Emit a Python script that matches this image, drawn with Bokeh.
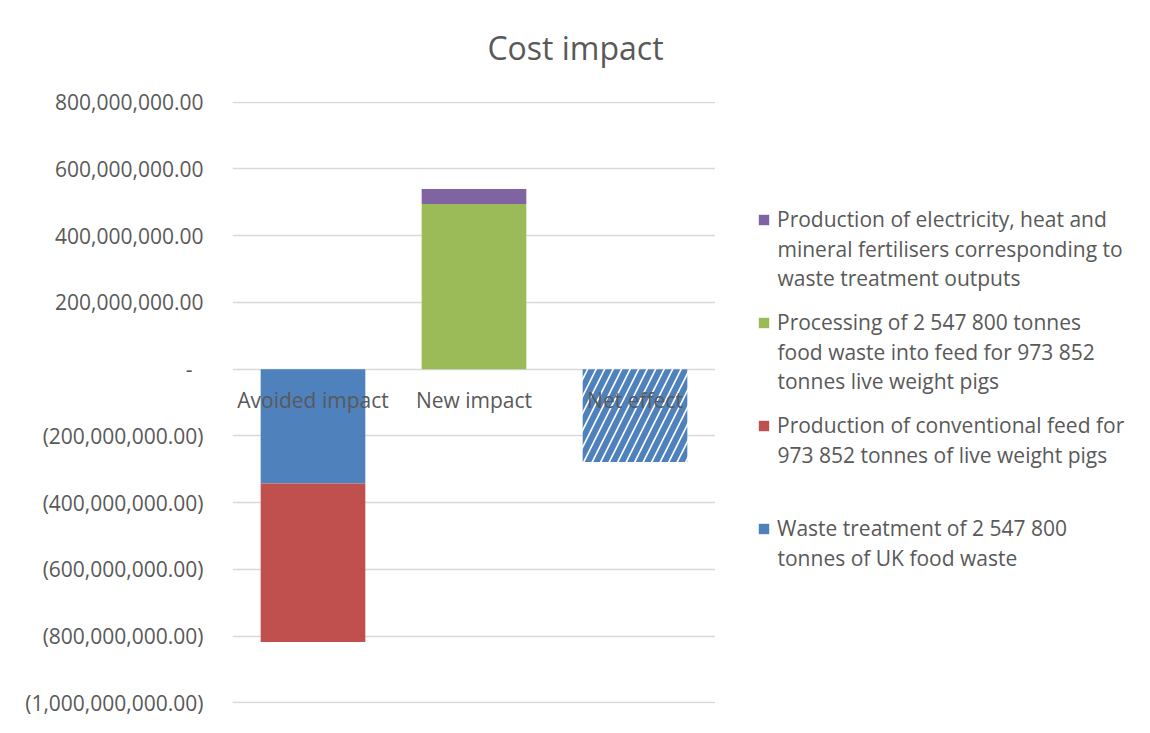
from bokeh.plotting import figure, ColumnDataSource
from bokeh.models import FactorRange, Range1d, FixedTicker, NumeralTickFormatter, Legend, LegendItem, Label
from bokeh.layouts import row, column
from bokeh.embed import file_html
from bokeh.resources import INLINE
from bokeh.core.properties import value

categories = ["Avoided impact", "New impact", "Net effect"]
waste_treatment = [-343e6, 0, 0]
conventional_feed = [-475e6, 0, 0]
processing = [0, 495e6, 0]
electricity = [0, 45e6, 0]
net_effect = [0, 0, -278e6]

legend_lines = [
    ["Waste treatment of 2 547 800", "tonnes of UK food waste"],
    ["Production of conventional feed for", "973 852 tonnes of live weight pigs"],
    ["Processing of 2 547 800 tonnes", "food waste into feed for 973 852", "tonnes live weight pigs"],
    ["Production of electricity, heat and", "mineral fertilisers corresponding to", "waste treatment outputs"],
]
colors = ["#4f81bd", "#c0504d", "#9bbb59", "#8064a2"]
y_ticks = [-1e9, -8e8, -6e8, -4e8, -2e8, 0, 2e8, 4e8, 6e8, 8e8]
y_tick_labels = ["(1,000,000,000.00)", "(800,000,000.00)", "(600,000,000.00)",
                 "(400,000,000.00)", "(200,000,000.00)", "-\u00a0\u00a0",
                 "200,000,000.00", "400,000,000.00", "600,000,000.00", "800,000,000.00"]
title_text = "Cost impact"

FONT = "Open Sans"
TXT = "#595959"
W, H = 1150, 733
TOP_H = 80            # height of the title strip
FRAME_L, FRAME_R, FRAME_T, FRAME_B = 232, 715, 101, 703   # page pixels of the plot area
LEG_X = 42            # swatch left, from the plot-area right edge
LINE_SP = 29.3
LEG_H = 28.6

source = ColumnDataSource(dict(
    cat=categories,
    waste=waste_treatment,
    conv=conventional_feed,
    proc=processing,
    elec=electricity,
    net=net_effect,
    base=[0] * len(categories),
))

# ---- title strip
tf = figure(width=W, height=TOP_H, output_backend="svg", toolbar_location=None,
            x_axis_location=None, y_axis_location=None,
            min_border_left=FRAME_L, min_border_right=0, min_border_top=0, min_border_bottom=0)
tf.outline_line_color = None
tf.grid.visible = False
tf.border_fill_color = "white"
tf.add_layout(Label(x=W / 2 - FRAME_L, y=TOP_H - 47, x_units="screen", y_units="screen",
                    text=title_text, text_align="center", text_baseline="middle",
                    text_font=FONT, text_font_size="32px", text_color=TXT))

# ---- main chart
pad = 2e6
p = figure(width=FRAME_R, height=H - TOP_H, x_range=FactorRange(*categories, range_padding=0),
           y_range=Range1d(y_ticks[0] - pad, y_ticks[-1] + pad),
           output_backend="svg", toolbar_location=None,
           min_border_left=FRAME_L, min_border_right=0,
           min_border_top=FRAME_T - TOP_H, min_border_bottom=H - FRAME_B)
p.outline_line_color = None
p.background_fill_color = "white"
p.border_fill_color = "white"

stack_rs = p.vbar_stack(["waste", "conv", "proc", "elec"], x="cat", width=0.65, source=source,
                        fill_color=colors, line_color=None)
p.vbar(x="cat", top="net", bottom="base", width=0.65, source=source, fill_color="white",
       line_color=None, hatch_pattern="/", hatch_color="#4f81bd", hatch_scale=17, hatch_weight=6)

p.text(x="cat", y="base", text="cat", source=source, text_font=value(FONT), text_font_size="21px",
       text_color=TXT, text_align="center", text_baseline="middle", y_offset=31)

p.xaxis.visible = False
p.xgrid.grid_line_color = None
p.ygrid.grid_line_color = "#d9d9d9"
p.ygrid.grid_line_width = 1.5

p.yaxis.ticker = FixedTicker(ticks=y_ticks)
p.yaxis.formatter = NumeralTickFormatter(format="(0,0.00)")
p.yaxis.major_label_overrides = dict(zip(y_ticks, y_tick_labels))
p.yaxis.axis_line_color = None
p.yaxis.major_tick_line_color = None
p.yaxis.minor_tick_line_color = None
p.yaxis.major_label_standoff = 23
p.yaxis.major_label_text_font = FONT
p.yaxis.major_label_text_font_size = "21px"
p.yaxis.major_label_text_color = TXT

# ---- legend panel (axis-less figure; swatches come from hidden copies of the same stacks)
q = figure(width=W - FRAME_R, height=H - TOP_H, x_range=FactorRange(*categories),
           y_range=Range1d(y_ticks[0] - pad, y_ticks[-1] + pad),
           output_backend="svg", toolbar_location=None,
           x_axis_location=None, y_axis_location=None,
           min_border_left=0, min_border_right=0,
           min_border_top=FRAME_T - TOP_H, min_border_bottom=H - FRAME_B)
q.outline_line_color = None
q.grid.visible = False
q.background_fill_color = "white"
q.border_fill_color = "white"
leg_rs = q.vbar_stack(["waste", "conv", "proc", "elec"], x="cat", width=0.65, source=source,
                      fill_color=colors, line_color=None)
for r in leg_rs:
    r.visible = False

first_line_y = [528, 425, 322, 219]  # page y of each entry's first text line (layout)
for lines, r, yc in zip(legend_lines, leg_rs, first_line_y):
    leg = Legend(items=[LegendItem(label=lines[0], renderers=[r])],
                 location=(LEG_X, FRAME_B - yc - LEG_H / 2), padding=0, margin=0,
                 border_line_color=None, background_fill_alpha=0, glyph_width=13,
                 glyph_height=13, label_standoff=7, label_text_font=FONT,
                 label_text_font_size="21px", label_text_color=TXT)
    q.add_layout(leg, "center")
    for k, txt in enumerate(lines[1:], 1):
        q.add_layout(Label(x=LEG_X + 13 + 7, y=FRAME_B - (yc + k * LINE_SP),
                           x_units="screen", y_units="screen", text=txt,
                           text_baseline="middle", text_align="left", text_font=FONT,
                           text_font_size="21px", text_color=TXT))

layout = column(tf, row(p, q, spacing=0), spacing=0)
open("out.html", "w").write(file_html(layout, INLINE))
